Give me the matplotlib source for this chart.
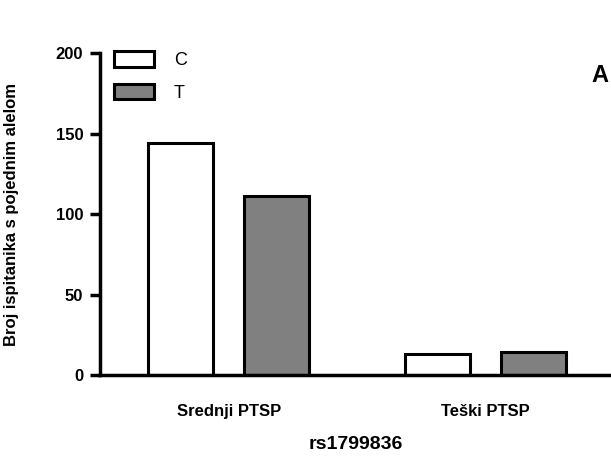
import numpy as np
import matplotlib.pyplot as plt

plt.rcParams['font.family'] = ['Liberation Sans', 'DejaVu Sans']

groups = ['Srednji PTSP', 'Teški PTSP']
alleles = ['C', 'T']
counts_C = [144, 13]
counts_T = [111, 14]
colors = ['white', '#808080']

fig = plt.figure(figsize=(6.11, 4.70), dpi=100)
ax = fig.add_axes([0.1637, 0.2021, 0.836, 0.685])

x = np.arange(len(groups))
w = 0.253
off = 0.1877
ax.bar(x - off, counts_C, width=w, color=colors[0], edgecolor='black', linewidth=2.2, label=alleles[0])
ax.bar(x + off, counts_T, width=w, color=colors[1], edgecolor='black', linewidth=2.2, label=alleles[1])

ax.set_xlim(-0.501, 1.487)
ax.set_ylim(0, 200)
ax.set_yticks([0, 50, 100, 150, 200])
ax.set_xticks(x)
ax.set_xticklabels(groups, fontsize=12, fontweight='bold')
ax.tick_params(axis='x', length=0, pad=21)
ax.tick_params(axis='y', length=7, width=2.5, labelsize=12, pad=5)
for lab in ax.get_yticklabels():
    lab.set_fontweight('bold')

for s in ['top', 'right']:
    ax.spines[s].set_visible(False)
for s in ['left', 'bottom']:
    ax.spines[s].set_linewidth(2.5)

ax.set_ylabel('Broj ispitanika s pojednim alelom', fontsize=12, fontweight='bold')
ax.yaxis.set_label_coords(-0.158, 0.5)
ax.set_xlabel('rs1799836', fontsize=14, fontweight='bold')
ax.xaxis.set_label_coords(0.5, -0.19)

ax.text(0.995, 0.93, 'A', transform=ax.transAxes, fontsize=17, fontweight='bold', ha='right', va='center')

leg = ax.legend(loc='upper left', bbox_to_anchor=(0.0, 1.05), frameon=False, fontsize=13,
                handlelength=2.2, handleheight=0.95, handletextpad=1.1, labelspacing=0.8,
                borderaxespad=0.4)

fig.savefig('out.png', dpi=100)
